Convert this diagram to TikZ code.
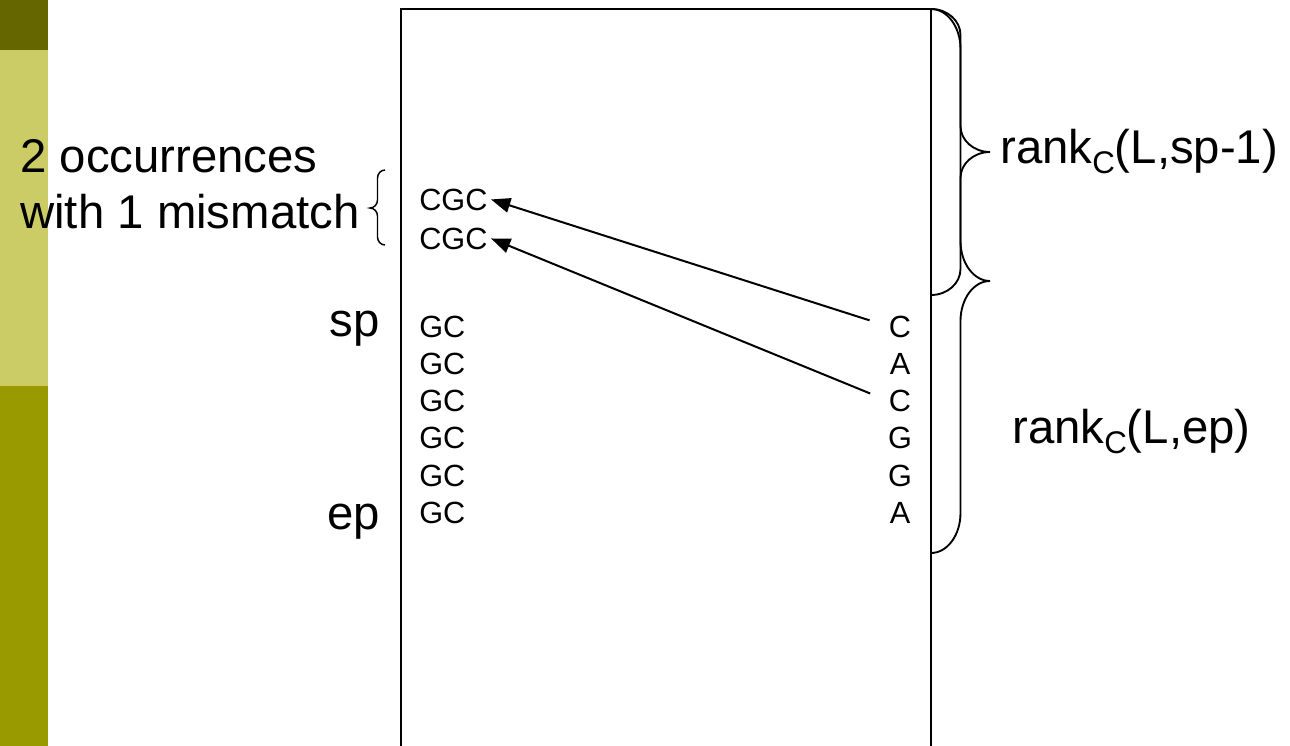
\documentclass[tikz,border=0pt]{standalone}
\usepackage{fontspec}
\setmainfont{Liberation Sans}
\usetikzlibrary{arrows.meta}
\definecolor{barTop}{HTML}{666600}
\definecolor{barMid}{HTML}{CCCC66}
\definecolor{barLow}{HTML}{999900}
\newcommand\lowsub[1]{\raisebox{-0.22em}{\fontsize{23.5}{28}\selectfont #1}}
\begin{document}
\begin{tikzpicture}[x=0.75pt,y=-0.75pt,
  big/.style={font=\fontsize{35.5}{42}\selectfont, inner sep=0pt},
  small/.style={font=\fontsize{23}{28}\selectfont, inner sep=0pt},
  brace/.style={line width=1.4pt},
  link/.style={line width=1.5pt, shorten <=15pt, -{Triangle[length=14.5pt,width=11pt]}},
]
\useasboundingbox (0,0) rectangle (1290,746);
\clip (0,0) rectangle (1290,746);
\fill[white] (0,0) rectangle (1290,746);

% coloured side bar
\fill[barTop] (0,0) rectangle (48,50);
\fill[barMid] (0,50) rectangle (48,386);
\fill[barLow] (0,386) rectangle (48,746);

% the BWT matrix
\draw[line width=1.1pt] (401,9) rectangle (931,780);

% left labels
\node[big, anchor=base west] (occ1) at (20,172) {2 occurrences};
\node[big, anchor=base west] (occ2) at (20,228) {with 1 mismatch};
\node[big, anchor=base east] (sp) at (380,336) {sp};
\node[big, anchor=base east] (ep) at (380,529) {ep};

% rows with prefix CGC
\node[small, anchor=base west] (cgc1) at (419,210) {CGC};
\node[small, anchor=base west] (cgc2) at (419,249) {CGC};

% rows from sp to ep
\foreach \i/\y/\last in {1/337/C, 2/374.3/A, 3/411.6/C, 4/448.9/G, 5/486.2/G, 6/523.5/A} {
  \node[small, anchor=base west] (gc\i) at (419,\y) {GC};
  \node[small, anchor=base] (r\i) at (900,\y) {\last};
}

% LF mapping of the two C's
\draw[link] (r1.west) -- ([xshift=2.5pt]cgc1.east);
\draw[link] (r3.west) -- ([xshift=2.5pt]cgc2.east);

% brace grouping the two CGC rows
\draw[brace, line width=1.1pt] (385,170) .. controls (380.9,170) and (377.5,173.6) .. (377.5,178)
  -- (377.5,200) .. controls (377.5,204.4) and (374.1,208) .. (370,208)
  .. controls (374.1,208) and (377.5,211.6) .. (377.5,216)
  -- (377.5,237) .. controls (377.5,241.4) and (380.9,245) .. (385,245);

% brace from the top to sp-1
\draw[brace] (931,9) .. controls (947.3,9) and (960.5,20.6) .. (960.5,35)
  -- (960.5,126) .. controls (960.5,140.4) and (973.7,152) .. (990,152)
  .. controls (973.7,152) and (960.5,163.6) .. (960.5,178)
  -- (960.5,269) .. controls (960.5,283.4) and (947.3,295) .. (931,295);

% brace from the top to ep
\draw[brace] (931,9) .. controls (947.3,9) and (960.5,26.9) .. (960.5,49)
  -- (960.5,241) .. controls (960.5,263.1) and (973.7,281) .. (990,281)
  .. controls (973.7,281) and (960.5,298.9) .. (960.5,321)
  -- (960.5,513) .. controls (960.5,535.1) and (947.3,553) .. (931,553);

% rank labels
\node[big, anchor=base west] (rk1) at (1000,163) {rank\lowsub{C}(L,sp-1)};
\node[big, anchor=base west] (rk2) at (1012,443) {rank\lowsub{C}(L,ep)};
\end{tikzpicture}
\end{document}
